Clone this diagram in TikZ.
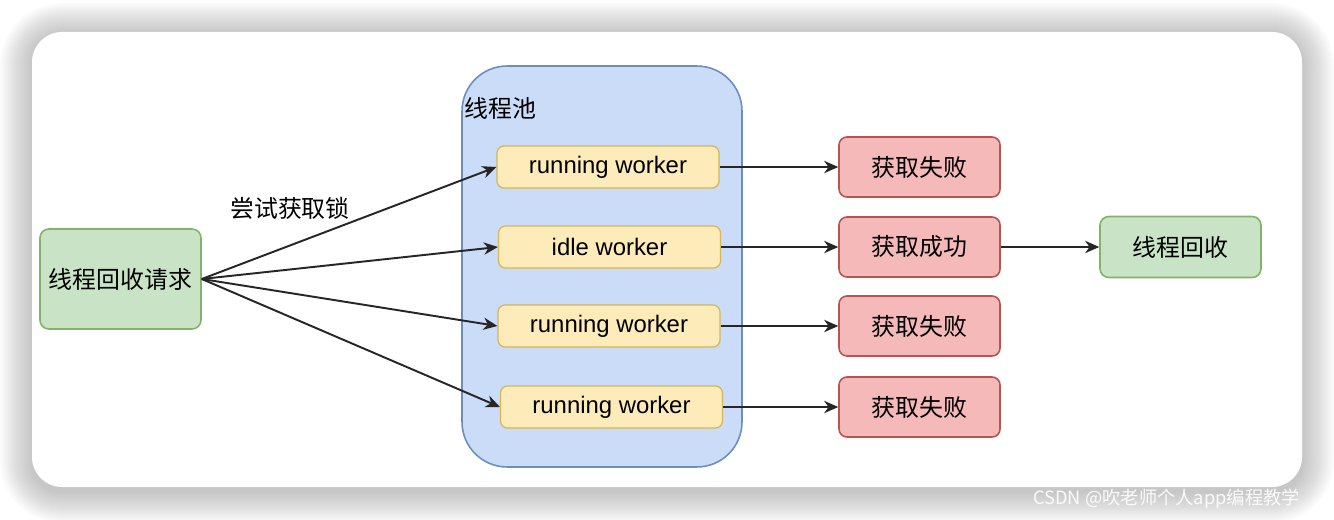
\documentclass[tikz,border=0pt]{standalone}
\usepackage{fontspec}
\setmainfont{Liberation Sans}
\newfontfamily\cjk{Noto Sans CJK SC}
\usetikzlibrary{arrows.meta}
\definecolor{gfill}{HTML}{C8E3C5}
\definecolor{gline}{HTML}{82B366}
\definecolor{bfill}{HTML}{CADCF7}
\definecolor{bline}{HTML}{6C8EBF}
\definecolor{yfill}{HTML}{FDEBBA}
\definecolor{yline}{HTML}{D6B656}
\definecolor{rfill}{HTML}{F4B9B8}
\definecolor{rline}{HTML}{B85450}
\begin{document}
\begin{tikzpicture}[x=0.02cm,y=-0.02cm,
  every node/.style={font=\fontsize{13.6}{16}\selectfont, inner sep=0pt},
  greenbox/.style={draw=gline, fill=gfill, line width=0.9pt, rounded corners=5pt},
  workerbox/.style={draw=yline, fill=yfill, line width=0.7pt, rounded corners=4pt, minimum width=4.44cm, minimum height=0.84cm},
  redbox/.style={draw=rline, fill=rfill, line width=0.9pt, rounded corners=4.5pt, minimum width=3.22cm, minimum height=1.2cm},
  poolbox/.style={draw=bline, fill=bfill, line width=0.9pt, rounded corners=0.9cm, minimum width=5.6cm, minimum height=8.02cm},
  arr/.style={draw=black!85, line width=1.1pt, -{Stealth[length=8pt,width=7pt,inset=2.5pt]}}
]
\useasboundingbox (0,0) rectangle (1334,520);
% shadow around the card
\foreach \i in {1,...,16}{
  \pgfmathsetmacro\rr{0.6+0.04*\i}
  \fill[black, opacity=0.017, rounded corners=\rr cm] ({32-2*\i},{35-2*\i}) rectangle ({1302+2*\i},{491+2*\i});
}
% card
\fill[white, rounded corners=0.6cm] (32,32) rectangle (1302,487);
% watermark
\node[anchor=west, text=white, opacity=0.9, font=\fontsize{10.4}{12}\selectfont] (wm) at (1033,499) {\cjk CSDN @吹老师个人app编程教学};

% pool
\node[poolbox] (pool) at (602,266.5) {};
\node[anchor=west] (pooltitle) at (464,108) {\cjk 线程池};

% start node
\node[greenbox, minimum width=3.22cm, minimum height=2.0cm] (req) at (120.5,279) {\cjk 线程回收请求};

% workers
\node[workerbox] (w1) at (608,167) {running worker};
\node[workerbox] (w2) at (609.5,247) {idle worker};
\node[workerbox] (w3) at (609,326) {running worker};
\node[workerbox] (w4) at (611.5,407) {running worker};

% results
\node[redbox] (f1) at (919.5,167) {\cjk 获取失败};
\node[redbox] (s2) at (919.5,247) {\cjk 获取成功};
\node[redbox] (f3) at (919.5,326) {\cjk 获取失败};
\node[redbox] (f4) at (919.5,407) {\cjk 获取失败};
\node[greenbox, minimum width=3.22cm, minimum height=1.22cm] (rec) at (1180.5,247) {\cjk 线程回收};

% label
\node (lbl) at (290,208) {\cjk 尝试获取锁};

% connectors
\draw[arr] (req.east) -- (w1.west);
\draw[arr] (req.east) -- (w2.west);
\draw[arr] (req.east) -- (w3.west);
\draw[arr] (req.east) -- (w4.west);
\draw[arr] (w1.east) -- (f1.west);
\draw[arr] (w2.east) -- (s2.west);
\draw[arr] (w3.east) -- (f3.west);
\draw[arr] (w4.east) -- (f4.west);
\draw[arr] (s2.east) -- (rec.west);
\end{tikzpicture}
\end{document}
